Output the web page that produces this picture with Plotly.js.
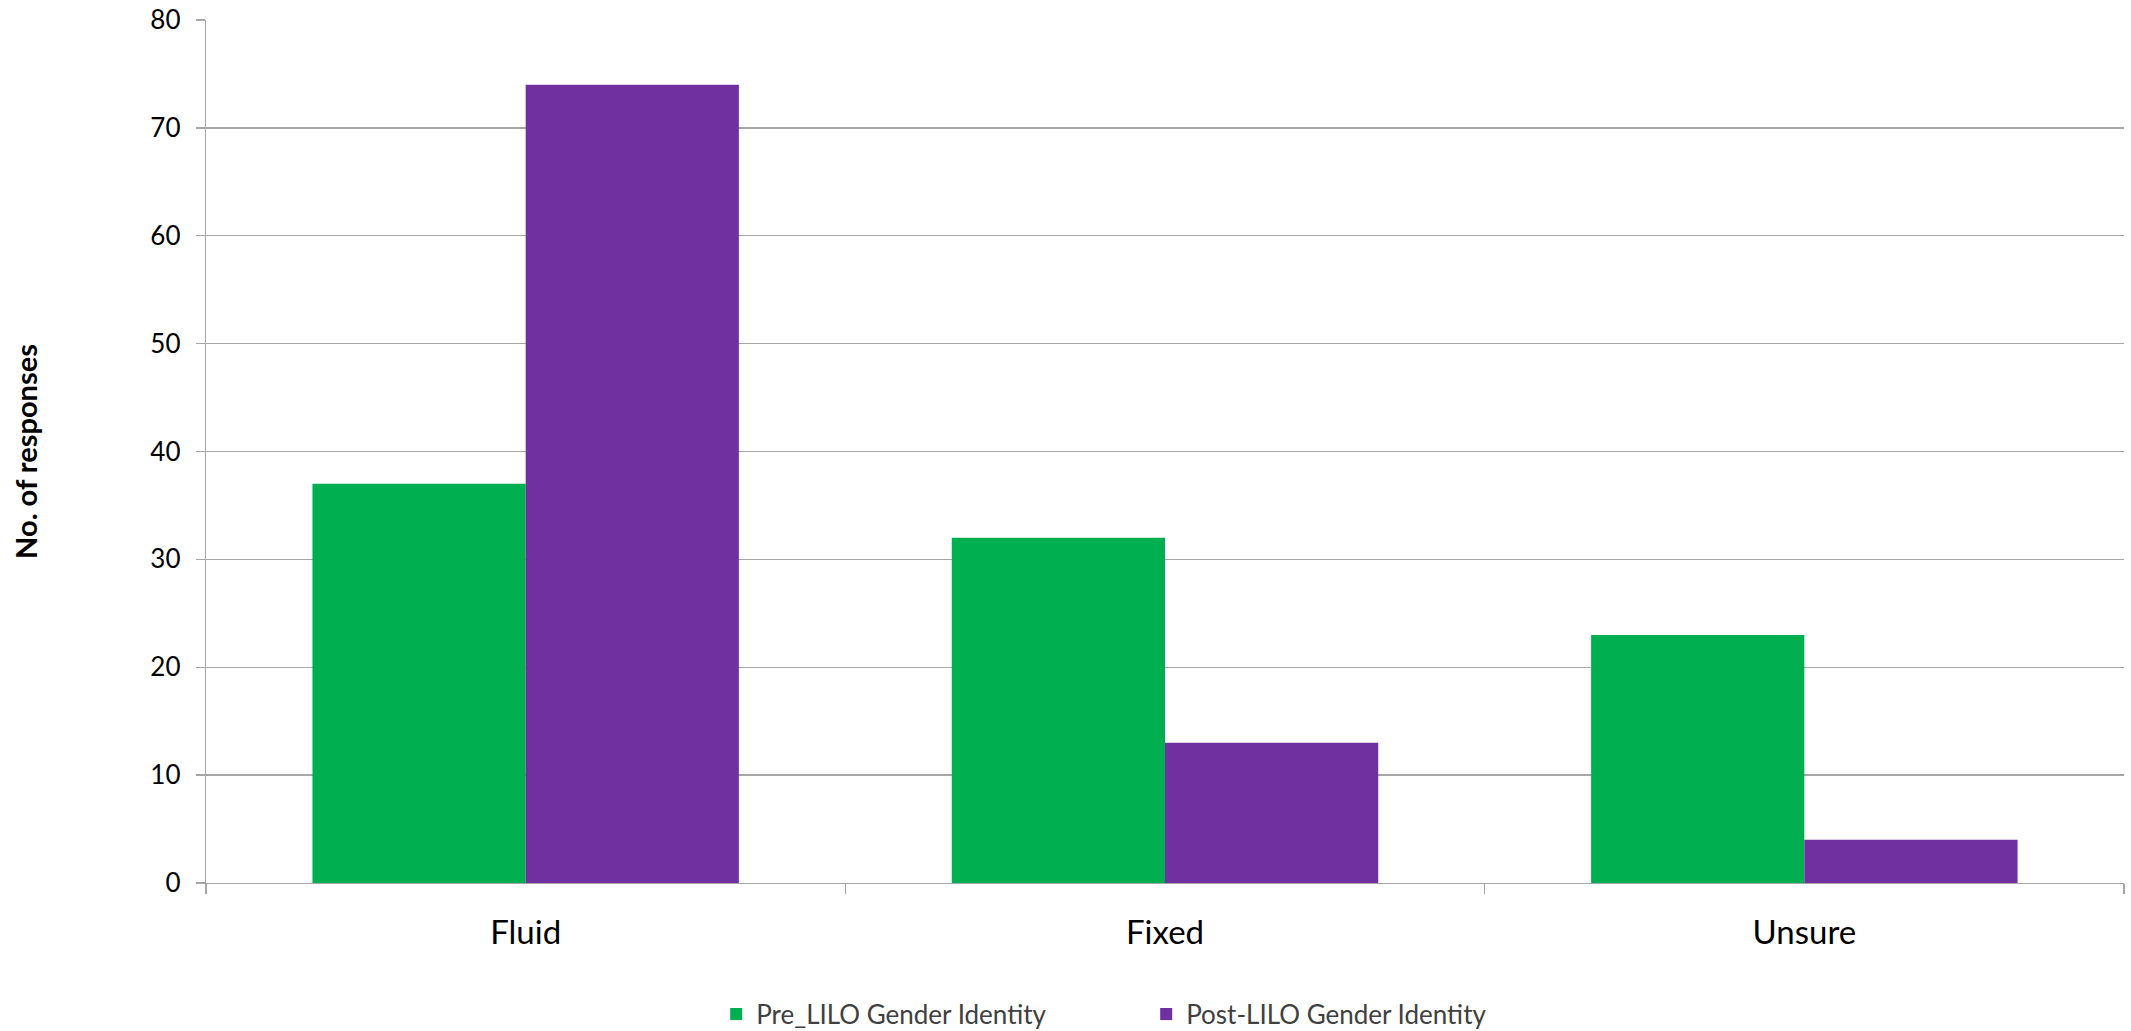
<!DOCTYPE html>
<html>
<head>
<meta charset="utf-8">
<script src="https://cdn.plot.ly/plotly-3.0.1.min.js"></script>
<style>html,body{margin:0;padding:0;background:#fff;}#chart{width:2131px;height:1031px;}</style>
</head>
<body>
<div id="chart"></div>
<script>
const categories = ["Fluid", "Fixed", "Unsure"];
const preLabel = "Pre_LILO Gender Identity";
const postLabel = "Post-LILO Gender Identity";
const preValues = [37, 32, 23];
const postValues = [74, 13, 4];
const yTicks = [0, 10, 20, 30, 40, 50, 60, 70, 80];

const traces = [
  {type: "bar", name: preLabel, x: categories, y: preValues, marker: {color: "#00B050"}, hoverinfo: "x+y"},
  {type: "bar", name: postLabel, x: categories, y: postValues, marker: {color: "#7030A0"}, hoverinfo: "x+y"}
];

const layout = {
  width: 2131, height: 1031,
  margin: {l: 206, r: 7, t: 20, b: 148, autoexpand: false},
  paper_bgcolor: "#ffffff", plot_bgcolor: "#ffffff",
  font: {family: "Lato, 'Open Sans', sans-serif", color: "#000000"},
  barmode: "group", bargap: 0.333, bargroupgap: 0,
  showlegend: true,
  legend: {orientation: "h", x: 0.266, xanchor: "left", y: -0.152, yanchor: "middle",
           font: {size: 26, color: "#404040"}, itemwidth: 30, entrywidth: 385, entrywidthmode: "pixels", tracegroupgap: 0},
  xaxis: {
    type: "category", tickson: "boundaries", ticks: "outside", ticklen: 10, tickcolor: "#A6A6A6", tickwidth: 1.3,
    showline: true, linecolor: "#A6A6A6", linewidth: 1.3, showgrid: false,
    tickfont: {size: 33, color: "#000000"}, ticklabelstandoff: 20
  },
  yaxis: {
    range: [0, 80], tickvals: yTicks, ticktext: yTicks.map(String),
    ticks: "outside", ticklen: 9, tickcolor: "#A6A6A6", tickwidth: 1.3,
    showline: true, linecolor: "#A6A6A6", linewidth: 1.3,
    showgrid: true, gridcolor: "#A6A6A6", gridwidth: 1.3, zeroline: false,
    tickfont: {size: 26, color: "#000000"}, ticklabelstandoff: 10,
    title: {text: "No. of responses", font: {size: 29, color: "#000000", weight: "bold"}, standoff: 104}
  }
};

Plotly.newPlot("chart", traces, layout, {displayModeBar: false, staticPlot: true});
</script>
</body>
</html>
